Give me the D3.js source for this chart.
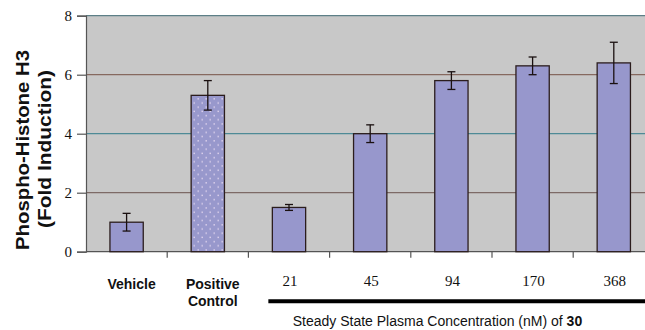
<!DOCTYPE html>
<html>
<head>
<meta charset="utf-8">
<script src="https://cdn.jsdelivr.net/npm/d3@7"></script>
<style>
  body { margin: 0; background: #fff; }
  svg { display: block; }
</style>
</head>
<body>
<script>
// data
const categories = ["Vehicle", "Positive Control", "21", "45", "94", "170", "368"];
const foldInduction = [1.0, 5.3, 1.5, 4.0, 5.8, 6.3, 6.4];
const errorSize = [0.3, 0.5, 0.1, 0.3, 0.3, 0.3, 0.7];
const yTicks = [0, 2, 4, 6, 8];
const gridColors = ["#7d6a66", "#4e8a96", "#86695f", "#5d7f87"]; // lines at 2,4,6,8

const width = 645, height = 330;
const plotLeft = 86, plotTop = 15.7, plotBottom = 251.7, plotRight = 654.4;
const sans = "'Liberation Sans', Arial, Helvetica, sans-serif";
const serif = "'Liberation Serif', 'Times New Roman', serif";

const svg = d3.select("body").append("svg").attr("width", width).attr("height", height);

const x = d3.scaleBand().domain(categories).range([plotLeft, plotRight]).paddingInner(0.59).paddingOuter(0.295);
const y = d3.scaleLinear().domain([0, 8]).range([plotBottom, plotTop]);
const step = x.step();

// dotted pattern for the positive control
{
    const pat = svg.append("defs").append("pattern")
        .attr("id", "dots").attr("patternUnits", "userSpaceOnUse")
        .attr("width", 8).attr("height", 8.4);
    pat.append("rect").attr("width", 8).attr("height", 8.4).attr("fill", "#9898cc");
    pat.append("rect").attr("x", 1.5).attr("y", 1.5).attr("width", 1.4).attr("height", 1.4).attr("fill", "#e0d4ee");
    pat.append("rect").attr("x", 5.5).attr("y", 5.7).attr("width", 1.4).attr("height", 1.4).attr("fill", "#e0d4ee");
}

// plot area + gridlines
svg.append("rect")
    .attr("x", plotLeft).attr("y", plotTop)
    .attr("width", plotRight - plotLeft).attr("height", plotBottom - plotTop)
    .attr("fill", "#c8c8c8");

svg.append("g").selectAll("line")
    .data(yTicks.slice(1))
    .enter().append("line")
    .attr("x1", plotLeft).attr("x2", plotRight)
    .attr("y1", (d) => y(d)).attr("y2", (d) => y(d))
    .attr("stroke", (d, i) => gridColors[i])
    .attr("stroke-width", 1.2);

// y axis
{
    const yAxis = svg.append("g")
        .attr("transform", `translate(${plotLeft},0)`)
        .call(d3.axisLeft(y).tickValues(yTicks).tickSize(9).tickPadding(5))
        .attr("font-family", serif)
        .attr("font-size", 15);
    yAxis.select(".domain").attr("stroke", "#555").attr("stroke-width", 1.2);
    yAxis.selectAll(".tick line").attr("stroke", "#555").attr("stroke-width", 1.2);
    yAxis.selectAll(".tick text").attr("fill", "#111");
}

// x axis: baseline with ticks at category boundaries
{
    svg.append("line")
        .attr("x1", plotLeft).attr("x2", plotRight)
        .attr("y1", plotBottom).attr("y2", plotBottom)
        .attr("stroke", "#555").attr("stroke-width", 1.2);
    const boundary = (d) => x(d) - step * 0.295;
    svg.append("g").selectAll("line")
        .data(categories.slice(1))
        .enter().append("line")
        .attr("x1", boundary).attr("x2", boundary)
        .attr("y1", plotBottom).attr("y2", plotBottom + 6)
        .attr("stroke", "#555").attr("stroke-width", 1.2);
}

// bars
svg.append("g").selectAll("rect")
    .data(categories)
    .enter().append("rect")
    .attr("x", (d) => x(d))
    .attr("y", (d, i) => y(foldInduction[i]))
    .attr("width", x.bandwidth())
    .attr("height", (d, i) => y(0) - y(foldInduction[i]))
    .attr("fill", (d, i) => (i === 1 ? "url(#dots)" : "#9797cc"))
    .attr("stroke", "#2b1d1d")
    .attr("stroke-width", 1.3);

// error bars
{
    const eb = svg.append("g").selectAll("g")
        .data(categories)
        .enter().append("g")
        .attr("stroke", "#1a1010").attr("stroke-width", 1.3);
    const cx = (d) => x(d) + x.bandwidth() / 2;
    eb.append("line")
        .attr("x1", cx).attr("x2", cx)
        .attr("y1", (d, i) => y(foldInduction[i] + errorSize[i]))
        .attr("y2", (d, i) => y(foldInduction[i] - errorSize[i]));
    [1, -1].forEach((s) => {
        eb.append("line")
            .attr("x1", (d) => cx(d) - 4).attr("x2", (d) => cx(d) + 4)
            .attr("y1", (d, i) => y(foldInduction[i] + s * errorSize[i]))
            .attr("y2", (d, i) => y(foldInduction[i] + s * errorSize[i]));
    });
}

// category labels
{
    const labels = svg.append("g");
    categories.forEach((c, i) => {
        const cx = x(c) + x.bandwidth() / 2;
        if (i < 2) {
            const t = labels.append("text")
                .attr("text-anchor", "middle")
                .attr("fill", "#111")
                .attr("font-family", sans)
                .attr("font-weight", "bold")
                .attr("font-size", 14);
            c.split(" ").forEach((w, j) => {
                t.append("tspan").attr("x", cx + 5).attr("y", 289 + j * 17).text(w);
            });
        } else {
            labels.append("text")
                .attr("x", cx + 1).attr("y", 286)
                .attr("text-anchor", "middle")
                .attr("fill", "#111")
                .attr("font-family", serif)
                .attr("font-size", 15)
                .text(c);
        }
    });

    // bracket under the concentrations
    svg.append("line")
        .attr("x1", x("21") - 4).attr("x2", width)
        .attr("y1", 301.3).attr("y2", 301.3)
        .attr("stroke", "#000").attr("stroke-width", 4);

    const title = svg.append("text")
        .attr("x", 292.7).attr("y", 326)
        .attr("fill", "#111")
        .attr("font-family", sans)
        .attr("font-size", 14);
    title.append("tspan").text("Steady State Plasma Concentration (nM) of ");
    title.append("tspan").attr("font-weight", "bold").text("30");
}

// y axis title
{
    const yt = svg.append("g")
        .attr("fill", "#111")
        .attr("font-family", sans)
        .attr("font-weight", "bold")
        .attr("font-size", 18.5)
        .attr("text-anchor", "middle");
    yt.append("text")
        .attr("transform", "translate(28.5,150) rotate(-90)")
        .attr("textLength", 200).attr("lengthAdjust", "spacingAndGlyphs")
        .text("Phospho-Histone H3");
    yt.append("text")
        .attr("transform", "translate(51,149) rotate(-90)")
        .attr("textLength", 158).attr("lengthAdjust", "spacingAndGlyphs")
        .text("(Fold Induction)");
}
</script>
</body>
</html>
